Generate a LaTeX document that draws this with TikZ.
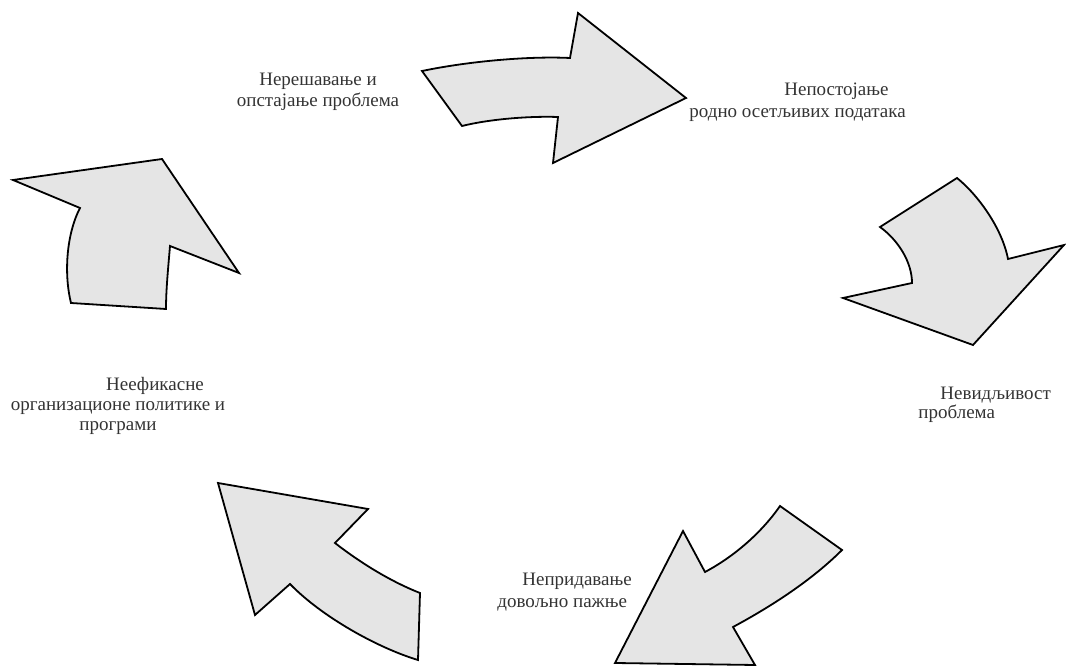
\documentclass[tikz,border=0pt]{standalone}
\usepackage{fontspec}
\setmainfont{Liberation Serif}
\usepackage{tikz}

\tikzset{
  cyclearrow/.style={draw=black, line width=0.9pt, fill=black!10, line join=miter},
  lbl/.style={font=\fontsize{9.5}{11}\selectfont, text=black!80, inner sep=0pt}
}

\begin{document}
\begin{tikzpicture}[x=0.5pt, y=-0.5pt]
\useasboundingbox (0,0) rectangle (1066,667);

% Top arrow
\draw[cyclearrow] (422,71) .. controls (470,61) and (530,56) .. (570,58) -- (578,13) -- (686,98)
  -- (553,163) -- (558,117) .. controls (530,116) and (490,119) .. (462,126) -- cycle;

% Right arrow
\draw[cyclearrow] (880,227) -- (957,178) .. controls (978,195) and (1002,228) .. (1008,259)
  -- (1064,245) -- (973,345) -- (843,298) -- (912,283) .. controls (912,262) and (898,240) .. (880,227) -- cycle;

% Bottom right arrow
\draw[cyclearrow] (780,506) -- (842,550) .. controls (812,580) and (772,606) .. (733,627)
  -- (755,665) -- (615,663) -- (683,531) -- (705,572) .. controls (735,556) and (762,532) .. (780,506) -- cycle;

% Bottom left arrow
\draw[cyclearrow] (218,483) -- (368,509) -- (335,543) .. controls (362,564) and (392,582) .. (420,593)
  -- (418,660) .. controls (378,648) and (322,617) .. (290,584) -- (255,615) -- cycle;

% Left arrow
\draw[cyclearrow] (13,180) -- (162,159) -- (239,273) -- (170,246) .. controls (168,270) and (166,290) .. (166,309)
  -- (71,303) .. controls (64,275) and (66,235) .. (80,208) -- cycle;

% Labels
\node[lbl, align=center, font=\fontsize{9.5}{10.5}\selectfont] (persist) at (318,92)
  {Нерешавање и\\опстајање проблема};
\node[lbl, align=left, anchor=west] (nodata) at (689,102)
  {\hspace*{47.5pt}Непостојање\\родно осетљивих података};
\node[lbl, align=left, anchor=west, font=\fontsize{9.5}{8}\selectfont] (invisible) at (918,405)
  {\hspace*{11pt}Невидљивост\\проблема};
\node[lbl, align=left, anchor=west] (attention) at (497,592)
  {\hspace*{12.5pt}Непридавање\\довољно пажње};
\node[lbl, align=center, font=\fontsize{9.5}{10}\selectfont] (policies) at (118,406)
  {\hspace*{37pt}Неефикасне\\организационе политике и\\програми};
\end{tikzpicture}
\end{document}
